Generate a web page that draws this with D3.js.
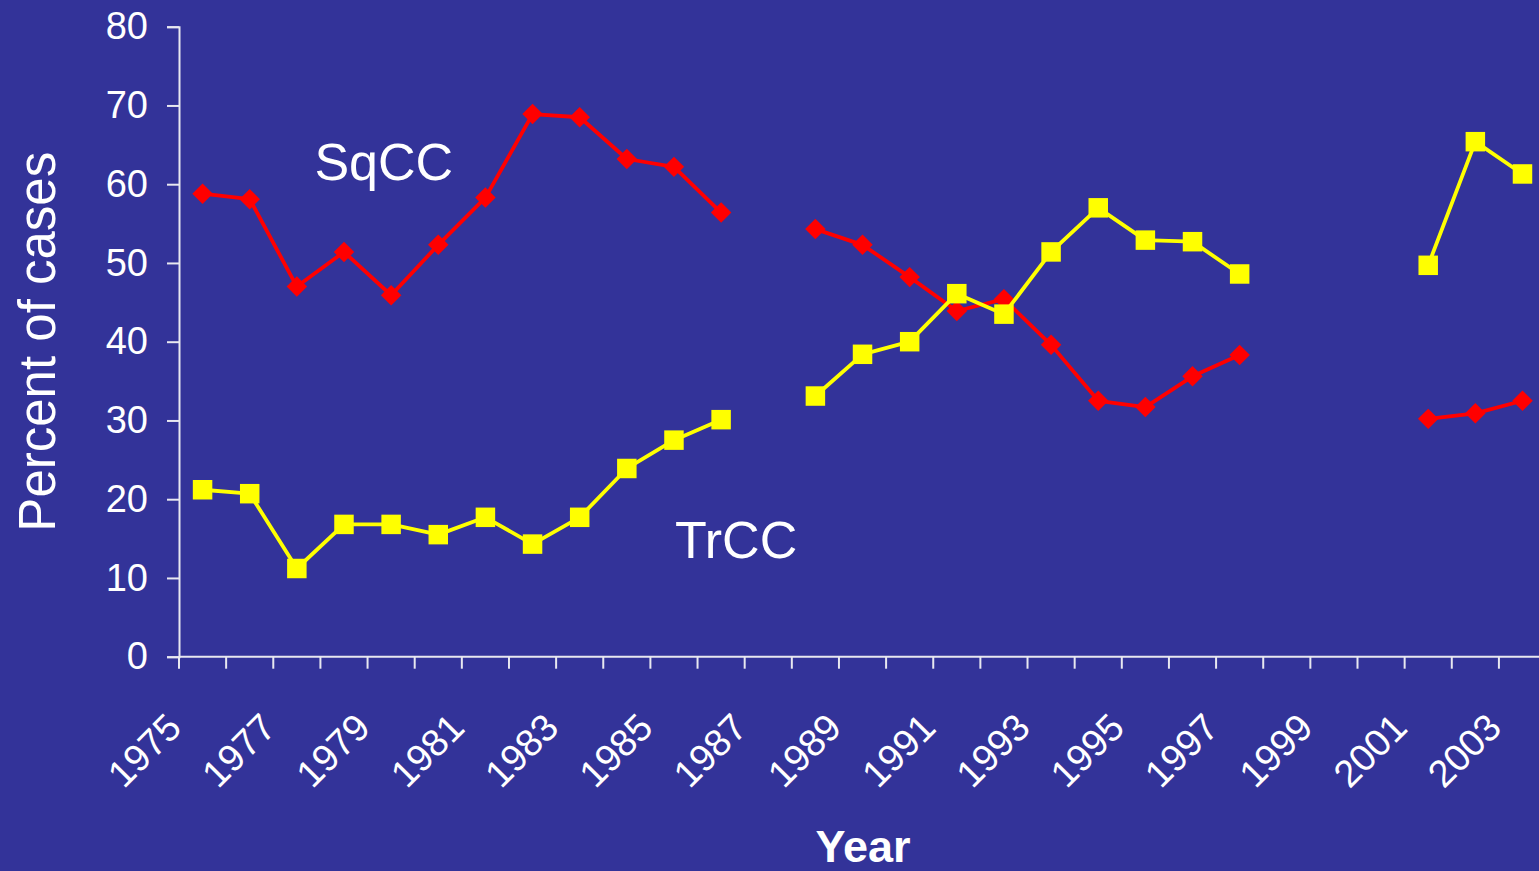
<!DOCTYPE html>
<html>
<head>
<meta charset="utf-8">
<script src="https://cdn.jsdelivr.net/npm/d3@7"></script>
<style>
  html, body { margin: 0; padding: 0; background: #333399; overflow: hidden; }
  svg { display: block; }
  text { font-family: "Liberation Sans", Arial, sans-serif; fill: #ffffff; }
</style>
</head>
<body>
<svg id="chart" width="1539" height="871"></svg>
<script>
const years = d3.range(1975, 2004).map(String);
const sqcc = [58.8, 58.1, 47.0, 51.4, 45.9, 52.3, 58.3, 68.9, 68.5, 63.2, 62.2, 56.4, null,
              54.3, 52.3, 48.2, 43.9, 45.4, 39.6, 32.5, 31.7, 35.6, 38.3, null, null, null,
              30.2, 30.9, 32.5];
const trcc = [21.2, 20.7, 11.2, 16.8, 16.8, 15.5, 17.7, 14.3, 17.7, 23.9, 27.5, 30.1, null,
              33.1, 38.4, 40.0, 46.1, 43.5, 51.4, 57.0, 52.9, 52.7, 48.6, null, null, null,
              49.7, 65.4, 61.3];
const yTicks = [0, 10, 20, 30, 40, 50, 60, 70, 80];
const xLabelYears = years.filter((d, i) => i % 2 === 0);
const annotations = [
  { text: "SqCC", year: "1978", value: 60.5, dx: -6 },
  { text: "TrCC", year: "1985", value: 12.5, dx: 1 }
];
const yTitle = "Percent of cases";
const xTitle = "Year";

(function () {
  const svg = d3.select("#chart");
  const mLeft = 179, mTop = 26.7, mBottom = 656.7, step = 47.14;
  const x = d3.scaleBand().domain(years).range([mLeft, mLeft + years.length * step]).padding(0);
  const y = d3.scaleLinear().domain([0, 80]).range([mBottom, mTop]);
  const cx = d => x(d) + x.bandwidth() / 2;
  const axisColor = "#e8e8f0";

  // Y axis
  const yAxis = svg.append("g").attr("transform", `translate(${mLeft},0)`)
    .call(d3.axisLeft(y).tickValues(yTicks).tickSize(12).tickPadding(19));
  yAxis.select(".domain").attr("stroke", axisColor).attr("stroke-width", 2);
  yAxis.selectAll(".tick line").attr("stroke", axisColor).attr("stroke-width", 2);
  yAxis.selectAll(".tick text").attr("fill", "#fff").style("font-size", "38px")
    .style("font-family", "Liberation Sans, Arial, sans-serif");

  // X axis line and tick marks at category boundaries
  const xAxis = svg.append("g").attr("transform", `translate(0,${mBottom})`)
    .call(d3.axisBottom(x).tickSize(12).tickFormat(""));
  xAxis.select(".domain").attr("stroke", axisColor).attr("stroke-width", 2)
    .attr("d", `M${mLeft},0H${1539 + 20}`);
  xAxis.selectAll(".tick line").attr("stroke", axisColor).attr("stroke-width", 2)
    .attr("transform", `translate(${-x.bandwidth() / 2},0)`);

  // X labels (every other year, rotated)
  svg.append("g").selectAll("text").data(xLabelYears).join("text")
    .attr("transform", d => `translate(${cx(d) - 19},${mBottom + 73}) rotate(-45)`)
    .attr("text-anchor", "end")
    .style("font-size", "38px")
    .text(d => d);

  // Lines
  const series = [
    { values: sqcc, color: "#ff0000", shape: "diamond" },
    { values: trcc, color: "#ffff00", shape: "square" }
  ];
  const line = d3.line().defined(d => d.v != null).x(d => cx(d.year)).y(d => y(d.v));
  series.forEach(s => {
    const pts = years.map((yr, i) => ({ year: yr, v: s.values[i] }));
    svg.append("path").datum(pts).attr("d", line)
      .attr("fill", "none").attr("stroke", s.color).attr("stroke-width", 3.8)
      .attr("stroke-linejoin", "round");
    const sym = s.shape === "diamond"
      ? d3.symbol(d3.symbolSquare, 210)
      : d3.symbol(d3.symbolSquare, 380);
    svg.append("g").selectAll("path").data(pts.filter(d => d.v != null)).join("path")
      .attr("d", sym)
      .attr("fill", s.color)
      .attr("transform", d => `translate(${cx(d.year)},${y(d.v)})` + (s.shape === "diamond" ? " rotate(45)" : ""));
  });

  // Series annotations
  svg.append("g").selectAll("text").data(annotations).join("text")
    .attr("x", d => (d.text === "SqCC" ? x(d.year) : cx(d.year)) + d.dx)
    .attr("y", d => y(d.value))
    .style("font-size", "52px")
    .text(d => d.text);

  // Axis titles
  svg.append("text")
    .attr("transform", `translate(55,${(mTop + mBottom) / 2}) rotate(-90)`)
    .attr("text-anchor", "middle")
    .style("font-size", "51px")
    .text(yTitle);

  svg.append("text")
    .attr("x", 863).attr("y", 862)
    .attr("text-anchor", "middle")
    .style("font-size", "45px").style("font-weight", "bold")
    .text(xTitle);
})();
</script>
</body>
</html>
